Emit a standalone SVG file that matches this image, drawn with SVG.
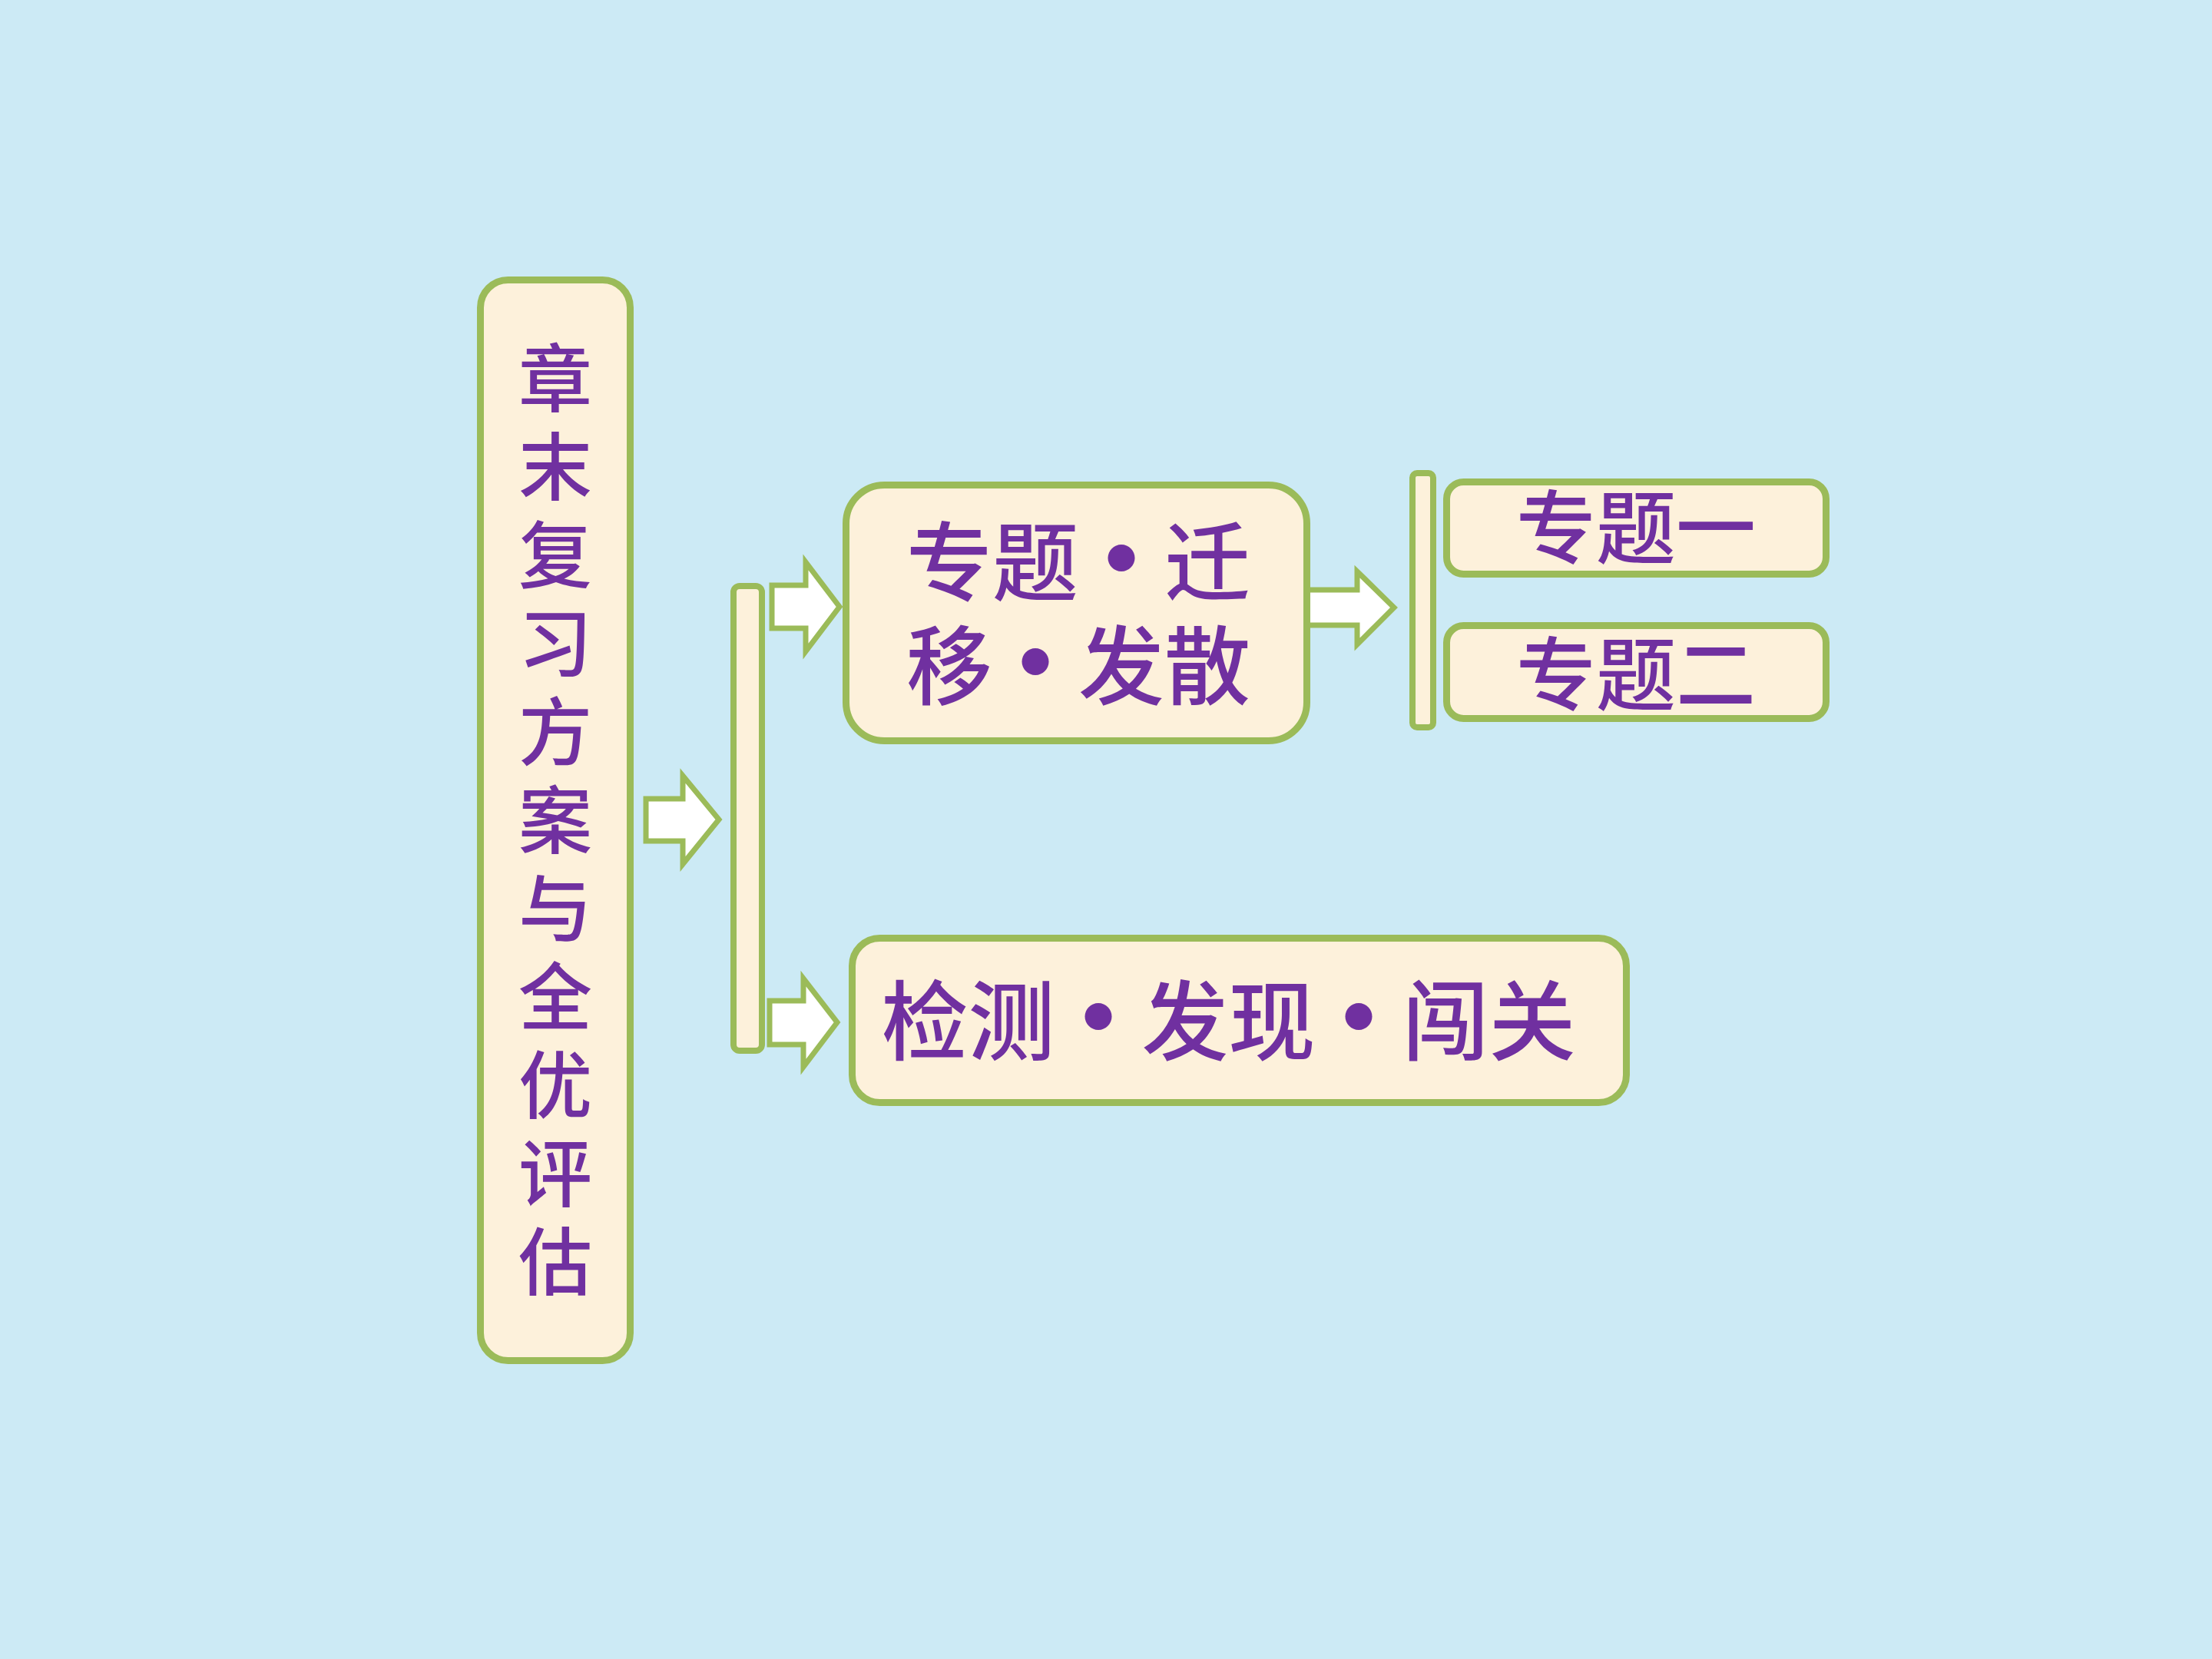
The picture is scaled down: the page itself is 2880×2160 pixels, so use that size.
<svg xmlns="http://www.w3.org/2000/svg" width="2880" height="2160" viewBox="0 0 2880 2160">
<defs>
<style>
.bg{fill:#CCEAF5}
.box{fill:#FDF1DB;stroke:#9BBB59;stroke-width:9}
.bar{fill:#FDF1DB;stroke:#9BBB59;stroke-width:8}
.arr{fill:#FFFFFF;stroke:#9BBB59;stroke-width:7;stroke-linejoin:miter}
.t{fill:#7030A0;font-family:"Noto Sans CJK SC","Noto Sans CJK TC",sans-serif;font-weight:500}
.c{fill:#7030A0;font-family:"Noto Sans CJK SC","Noto Sans CJK TC",sans-serif;font-weight:500;font-size:96px;text-anchor:middle}
.dot{font-weight:900;font-size:125px}
</style>
<pattern id="tex" width="16" height="16" patternUnits="userSpaceOnUse">
<rect width="16" height="16" fill="#CCEAF5"/>
<rect x="0" y="0" width="3" height="16" fill="#C3E2EF" opacity="0.8"/>
<rect x="7" y="0" width="2" height="10" fill="#DAF1F9" opacity="0.8"/>
<rect x="11" y="5" width="3" height="11" fill="#C6E4F0" opacity="0.7"/>
<rect x="3" y="12" width="8" height="2" fill="#D8EFF8" opacity="0.7"/>
</pattern>
</defs>
<rect class="bg" x="0" y="0" width="2880" height="2160" fill="url(#tex)"/>

<g id="connectors">
<polygon class="arr" points="841,1040 889,1040 889,1010 936,1067 889,1125 889,1095 841,1095"/>
<polygon class="arr" points="1005,762 1049,762 1049,732 1093,790 1049,848 1049,818 1005,818"/>
<polygon class="arr" points="1002,1303 1046,1303 1046,1274 1090,1331 1046,1389 1046,1360 1002,1360"/>
<polygon class="arr" points="1700,768 1767,768 1767,744 1815,791 1767,839 1767,814 1700,814"/>
</g>

<g id="node-main">
<rect class="box" x="625.5" y="364.5" width="195" height="1407" rx="36"/>
<text class="c" x="723" y="528">章</text>
<text class="c" x="723" y="643">末</text>
<text class="c" x="723" y="758">复</text>
<text class="c" x="723" y="873">习</text>
<text class="c" x="723" y="988">方</text>
<text class="c" x="723" y="1103">案</text>
<text class="c" x="723" y="1218">与</text>
<text class="c" x="723" y="1333">全</text>
<text class="c" x="723" y="1448">优</text>
<text class="c" x="723" y="1563">评</text>
<text class="c" x="723" y="1678">估</text>
</g>

<g id="node-bar1">
<rect class="bar" x="955" y="763" width="37" height="605" rx="8"/>
</g>

<g id="node-zhuanti">
<rect class="box" x="1101.5" y="631.5" width="600" height="333" rx="50"/>
<text class="t" font-size="112" text-anchor="middle" x="1236 1348 1460 1572" y="774">专题<tspan class="dot">·</tspan>迁</text>
<text class="t" font-size="112" text-anchor="middle" x="1236 1348 1460 1572" y="909">移<tspan class="dot">·</tspan>发散</text>
</g>

<g id="node-bar2">
<rect class="bar" x="1839" y="616" width="27" height="331" rx="6"/>
</g>

<g id="node-topic1">
<rect class="box" x="1883.5" y="627.5" width="494" height="120" rx="22"/>
<text class="t" font-size="104" text-anchor="middle" x="2130" y="726">专题一</text>
</g>

<g id="node-topic2">
<rect class="box" x="1883.5" y="814.5" width="494" height="121" rx="22"/>
<text class="t" font-size="104" text-anchor="middle" x="2130" y="917">专题二</text>
</g>

<g id="node-jiance">
<rect class="box" x="1109.5" y="1221.5" width="1008" height="214" rx="36"/>
<text class="t" font-size="113" text-anchor="middle" x="1204 1317 1430 1543 1656 1769 1882 1995" y="1371">检测<tspan class="dot">·</tspan>发现<tspan class="dot">·</tspan>闯关</text>
</g>
</svg>
